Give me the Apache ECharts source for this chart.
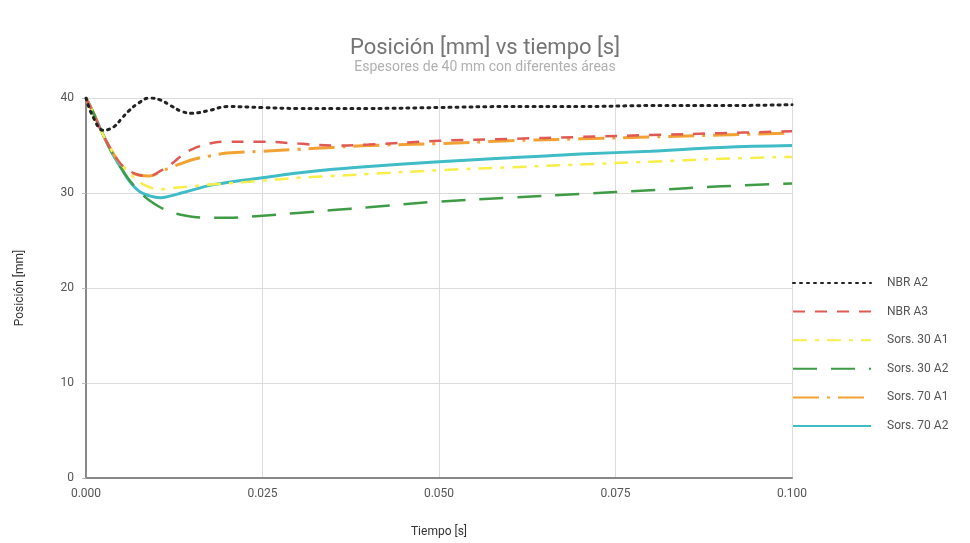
<!DOCTYPE html>
<html><head><meta charset="utf-8">
<script src="https://cdn.jsdelivr.net/npm/echarts@6/dist/echarts.min.js"></script>
<style>html,body{margin:0;padding:0;background:#fff}#c{width:970px;height:543px}</style>
</head><body><div id="c"></div>
<script>
var time = [0, 0.001, 0.0025, 0.004, 0.005, 0.006, 0.0075, 0.009, 0.0105, 0.012, 0.0135, 0.015, 0.0175, 0.02, 0.025, 0.03, 0.035, 0.04, 0.05, 0.06, 0.07, 0.08, 0.09, 0.1];
var nbrA2 =   [40, 38.0, 36.6, 37.0, 37.8, 38.6, 39.5, 40.0, 39.8, 39.2, 38.6, 38.4, 38.7, 39.1, 39.0, 38.9, 38.9, 38.9, 39.0, 39.1, 39.1, 39.2, 39.2, 39.3];
var nbrA3 =   [40, 38.5, 36.0, 34.0, 33.0, 32.4, 31.9, 31.8, 32.3, 33.0, 33.9, 34.6, 35.2, 35.4, 35.4, 35.2, 35.0, 35.1, 35.5, 35.7, 35.9, 36.1, 36.3, 36.5];
var sors30A1 = [40, 38.5, 36.0, 34.0, 33.0, 32.2, 31.2, 30.6, 30.4, 30.5, 30.6, 30.7, 30.9, 31.0, 31.3, 31.6, 31.8, 32.0, 32.4, 32.7, 33.0, 33.3, 33.6, 33.8];
var sors30A2 = [40, 38.5, 36.0, 33.8, 32.6, 31.5, 30.2, 29.2, 28.5, 28.0, 27.7, 27.5, 27.4, 27.4, 27.6, 27.9, 28.2, 28.5, 29.1, 29.5, 29.9, 30.3, 30.7, 31.0];
var sors70A1 = [40, 38.5, 36.0, 34.0, 33.0, 32.3, 31.9, 31.8, 32.2, 32.7, 33.1, 33.5, 33.9, 34.2, 34.4, 34.6, 34.8, 35.0, 35.2, 35.5, 35.7, 35.9, 36.1, 36.3];
var sors70A2 = [40, 38.5, 36.0, 33.8, 32.6, 31.4, 30.2, 29.7, 29.5, 29.7, 30.0, 30.3, 30.8, 31.1, 31.6, 32.1, 32.5, 32.8, 33.3, 33.7, 34.1, 34.4, 34.8, 35.0];
var seriesNames = ['NBR A2', 'NBR A3', 'Sors. 30 A1', 'Sors. 30 A2', 'Sors. 70 A1', 'Sors. 70 A2'];
var xTicks = [0, 0.025, 0.05, 0.075, 0.1];
var yTicks = [0, 10, 20, 30, 40];

function pairs(v){ return time.map(function(t,i){ return [t, v[i]]; }); }
var styles = [
  {color:'#222222', width:3, type:[2,5], cap:'round'},
  {color:'#e05a55', width:2.5, type:[12,10]},
  {color:'#f7ee4a', width:2.5, type:[14,8,4,8]},
  {color:'#3f9b45', width:2.5, type:[24,14]},
  {color:'#f2a233', width:3, type:[26,8,3,8]},
  {color:'#3fbcc6', width:3, type:'solid'}
];
var data = [nbrA2, nbrA3, sors30A1, sors30A2, sors70A1, sors70A2];
var series = data.map(function(v,i){
  var s = styles[i];
  return {
    name: seriesNames[i], type:'line', smooth:0.4, symbol:'none', showSymbol:false,
    data: pairs(v), color: s.color,
    lineStyle:{color:s.color, width:s.width, type:s.type, cap:s.cap||'butt'},
    z: 10 - i
  };
});

var chart = echarts.init(document.getElementById('c'), null, {renderer:'canvas'});
chart.setOption({
  animation:false,
  textStyle:{fontFamily:'Roboto, sans-serif'},
  title:{
    text:'Posición [mm] vs tiempo [s]',
    subtext:'Espesores de 40 mm con diferentes áreas',
    left:'center', top:37, itemGap:1, padding:0,
    textStyle:{fontSize:22, fontWeight:'normal', color:'#757575', fontFamily:'Roboto, sans-serif'},
    subtextStyle:{fontSize:14, color:'#b0b0b0', fontFamily:'Roboto, sans-serif'}
  },
  legend:{
    orient:'vertical', left:792, top:277, padding:0,
    itemWidth:78, itemHeight:14, itemGap:16.6,
    itemStyle:{opacity:0},
    textStyle:{fontSize:12, color:'#555', padding:[0,0,0,11]},
    data: seriesNames
  },
  grid:{left:86, right:178, top:98, bottom:63},
  xAxis:{
    type:'value', min:0, max:0.1, interval:0.025,
    name:'Tiempo [s]', nameLocation:'middle', nameGap:48,
    nameTextStyle:{fontSize:12, color:'#333'},
    axisLine:{lineStyle:{color:'#888', width:2}},
    axisTick:{show:false},
    axisLabel:{color:'#555', fontSize:12, margin:10, formatter:function(v){ return v.toFixed(3); }},
    splitLine:{show:true, lineStyle:{color:'#dcdcdc', width:1}}
  },
  yAxis:{
    type:'value', min:0, max:40, interval:10,
    name:'Posición [mm]', nameLocation:'middle', nameGap:60, nameRotate:90,
    nameTextStyle:{fontSize:12, color:'#333'},
    axisLine:{show:true, lineStyle:{color:'#888', width:2}},
    axisTick:{show:true, length:4, lineStyle:{color:'#bbb'}},
    axisLabel:{color:'#555', fontSize:12, margin:12},
    splitLine:{show:true, lineStyle:{color:'#dcdcdc', width:1}}
  },
  series: series
});
</script></body></html>
